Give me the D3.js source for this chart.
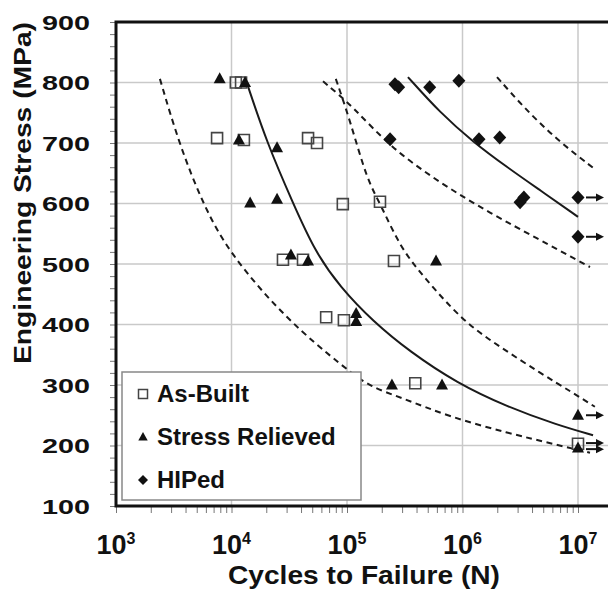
<!DOCTYPE html>
<html>
<head>
<meta charset="utf-8">
<script src="https://cdn.jsdelivr.net/npm/d3@7"></script>
<style>
  body { margin: 0; background: #fff; }
  svg { display: block; }
  text { font-family: "Liberation Sans", Arial, sans-serif; font-weight: bold; fill: #111; }
</style>
</head>
<body>
<svg id="chart" width="608" height="590"></svg>
<script>
//
// Data (cycles to failure, stress in MPa)
//

var asBuilt = [[1.09e4, 800], [1.21e4, 800], [7.5e3, 708], [1.28e4, 705], [4.6e4, 708], [5.5e4, 700],
  [9.2e4, 599], [1.93e5, 603], [2.79e4, 507], [4.16e4, 507], [2.55e5, 505], [6.6e4, 412],
  [9.4e4, 407], [3.9e5, 303], [1e7, 203]]
var stressRelieved = [[7.9e3, 806], [1.31e4, 800], [1.16e4, 705], [2.48e4, 692], [1.45e4, 601],
  [2.48e4, 607], [3.27e4, 515], [4.6e4, 505], [5.9e5, 505], [1.2e5, 418], [1.2e5, 405],
  [2.45e5, 300], [6.65e5, 300], [1e7, 250], [1e7, 196]]
var hiped = [[2.6e5, 797], [2.8e5, 792], [5.2e5, 792], [9.3e5, 803], [2.36e5, 706], [1.39e6, 706],
  [2.1e6, 709], [3.15e6, 602], [3.4e6, 610], [1e7, 610], [1e7, 545]]
// run-outs (no failure) get an arrow
var runouts = [[1e7, 610], [1e7, 545], [1e7, 250], [1e7, 204], [1e7, 194]]

// fitted curves
var abLower = [[2.4e3, 806], [3.5e3, 700], [5.6e3, 601], [9.5e3, 518], [3.03e4, 407], [9.6e4, 328],
  [1.58e5, 297], [2.88e5, 280], [7.8e5, 247], [2.43e6, 221], [6.6e6, 201], [1.27e7, 188]]
var abMean = [[1.36e4, 799], [2.03e4, 700], [3.4e4, 601], [5.3e4, 520], [8.7e4, 462], [1.68e5, 405],
  [3.5e5, 355], [8.96e5, 303], [2.43e6, 264], [6.6e6, 234], [1.35e7, 217]]
var abUpper = [[8.0e4, 806], [1.06e5, 738], [1.49e5, 639], [1.93e5, 601], [2.88e5, 528], [4.55e5, 480],
  [1.01e6, 405], [2.11e6, 363], [4.69e6, 320], [9.06e6, 287], [1.4e7, 264]]
var hipLower = [[6.2e4, 802], [1.13e5, 760], [2.36e5, 693], [6.4e5, 634], [1.73e6, 584], [4.69e6, 540],
  [9.06e6, 510], [1.27e7, 495]]
var hipMean = [[3.37e5, 809], [6.4e5, 750], [1.23e6, 702], [2.43e6, 660], [4.69e6, 622], [1.0e7, 578]]
var hipUpper = [[1.99e6, 809], [3.34e6, 760], [6.58e6, 705], [1.35e7, 659]]

var yTicks = [100, 200, 300, 400, 500, 600, 700, 800, 900]
var xExponents = [3, 4, 5, 6, 7]
var legendLabels = ['As-Built', 'Stress Relieved', 'HIPed']

//
// Layout
//

var plotLeft = 116, plotTop = 22, plotBottom = 506
var decade = 115.5

var x = d3.scaleLog().domain([1e3, 2e7]).range([plotLeft, plotLeft + decade * Math.log10(2e4)])
var y = d3.scaleLinear().domain([100, 900]).range([plotBottom, plotTop])

var svg = d3.select('#chart')

// gridlines
var grid = svg.append('g').attr('stroke', '#c9c9c9').attr('stroke-width', 1.5)
grid.selectAll('line.gx')
  .data(xExponents.slice(1))
  .enter().append('line')
  .attr('x1', d => x(Math.pow(10, d))).attr('x2', d => x(Math.pow(10, d)))
  .attr('y1', plotTop).attr('y2', plotBottom)
grid.selectAll('line.gy')
  .data(yTicks.slice(1, -1))
  .enter().append('line')
  .attr('x1', plotLeft).attr('x2', 608)
  .attr('y1', d => y(d)).attr('y2', d => y(d))

// y axis: minor ticks every 20 MPa outside the frame
var yAxis = d3.axisLeft(y).tickValues(d3.range(100, 901, 20)).tickSize(6).tickFormat('')
svg.append('g')
  .attr('transform', `translate(${plotLeft},0)`)
  .call(yAxis)
  .call(g => g.select('.domain').remove())
  .call(g => g.selectAll('line').attr('stroke', '#777').attr('stroke-width', 1))

svg.selectAll('text.ylab')
  .data(yTicks)
  .enter().append('text')
  .attr('class', 'ylab')
  .attr('x', 90)
  .attr('y', d => y(d))
  .attr('dy', '0.36em')
  .attr('text-anchor', 'end')
  .attr('font-size', 21)
  .attr('textLength', 48)
  .attr('lengthAdjust', 'spacingAndGlyphs')
  .text(d => d)

// x axis: log minor ticks below the frame
var xMinor = []
xExponents.slice(0, -1).forEach(function(e) {
  for (var k = 1; k < 10; k++) xMinor.push(k * Math.pow(10, e))
})
xMinor.push(1e7)
svg.append('g')
  .attr('transform', `translate(0,${plotBottom})`)
  .call(d3.axisBottom(x).tickValues(xMinor).tickSize(7).tickFormat(''))
  .call(g => g.select('.domain').remove())
  .call(g => g.selectAll('line').attr('stroke', '#777').attr('stroke-width', 1))

var xl = svg.selectAll('text.xlab')
  .data(xExponents)
  .enter().append('text')
  .attr('class', 'xlab')
  .attr('x', d => x(Math.pow(10, d)))
  .attr('y', 554)
  .attr('text-anchor', 'middle')
  .attr('font-size', 27)
xl.append('tspan').text('10')
xl.append('tspan').attr('dy', -10).attr('font-size', 16).text(d => d)

// axis titles
svg.append('text')
  .attr('x', 364).attr('y', 584)
  .attr('text-anchor', 'middle')
  .attr('font-size', 25)
  .attr('textLength', 272)
  .attr('lengthAdjust', 'spacingAndGlyphs')
  .text('Cycles to Failure (N)')

svg.append('text')
  .attr('transform', 'translate(31,193) rotate(-90)')
  .attr('text-anchor', 'middle')
  .attr('font-size', 23)
  .attr('textLength', 342)
  .attr('lengthAdjust', 'spacingAndGlyphs')
  .text('Engineering Stress (MPa)')

// frame
svg.append('path')
  .attr('d', `M608,${plotTop}H${plotLeft}V${plotBottom}H608`)
  .attr('fill', 'none')
  .attr('stroke', '#111')
  .attr('stroke-width', 3)

//
// Curves
//

var line = d3.line()
  .x(d => x(d[0]))
  .y(d => y(d[1]))
  .curve(d3.curveBasis)

function curve(data, dashed) {
  svg.append('path')
    .attr('d', line(data))
    .attr('fill', 'none')
    .attr('stroke', '#1a1a1a')
    .attr('stroke-width', 2)
    .attr('stroke-dasharray', dashed ? '6,4.5' : null)
}

curve(abLower, true)
curve(abMean, false)
curve(abUpper, true)
curve(hipLower, true)
curve(hipMean, false)
curve(hipUpper, true)

//
// Markers
//

var squarePath = 'M-5.5,-5.5H5.5V5.5H-5.5Z'
var trianglePath = 'M0,-6.5L6,4.5H-6Z'
var diamondPath = 'M0,-7L6.5,0L0,7L-6.5,0Z'

function markers(data, shape, filled) {
  svg.append('g')
    .selectAll('path')
    .data(data)
    .enter().append('path')
    .attr('transform', d => `translate(${x(d[0])},${y(d[1])})`)
    .attr('d', shape)
    .attr('fill', filled ? '#111' : 'none')
    .attr('stroke', filled ? 'none' : '#444')
    .attr('stroke-width', 1.6)
}

markers(asBuilt, squarePath, false)
markers(stressRelieved, trianglePath, true)
markers(hiped, diamondPath, true)

// run-out arrows
var arrows = svg.append('g').selectAll('g')
  .data(runouts)
  .enter().append('g')
  .attr('transform', d => `translate(${x(d[0])},${y(d[1])})`)
arrows.append('line')
  .attr('x1', 8).attr('x2', 20).attr('y1', 0).attr('y2', 0)
  .attr('stroke', '#111').attr('stroke-width', 2)
arrows.append('path')
  .attr('d', 'M26,0L18,-4L18,4Z')
  .attr('fill', '#111')

//
// Legend
//

var legend = svg.append('g')
legend.append('rect')
  .attr('x', 122).attr('y', 372)
  .attr('width', 239).attr('height', 128)
  .attr('fill', '#fff')
  .attr('stroke', '#888')
  .attr('stroke-width', 1.5)

var legendShapes = [
  { d: 'M-4.5,-4.5H4.5V4.5H-4.5Z', filled: false },
  { d: 'M0,-5L4.7,3.5H-4.7Z', filled: true },
  { d: 'M0,-5L5,0L0,5L-5,0Z', filled: true }
]
var legendY = d3.scalePoint().domain(legendLabels).range([394, 480])

legendLabels.forEach(function(label, i) {
  var s = legendShapes[i]
  legend.append('path')
    .attr('transform', `translate(143,${legendY(label)})`)
    .attr('d', s.d)
    .attr('fill', s.filled ? '#111' : 'none')
    .attr('stroke', s.filled ? 'none' : '#444')
    .attr('stroke-width', 1.5)
  legend.append('text')
    .attr('x', 157)
    .attr('y', legendY(label) + 8)
    .attr('font-size', 24)
    .text(label)
})
</script>
</body>
</html>
